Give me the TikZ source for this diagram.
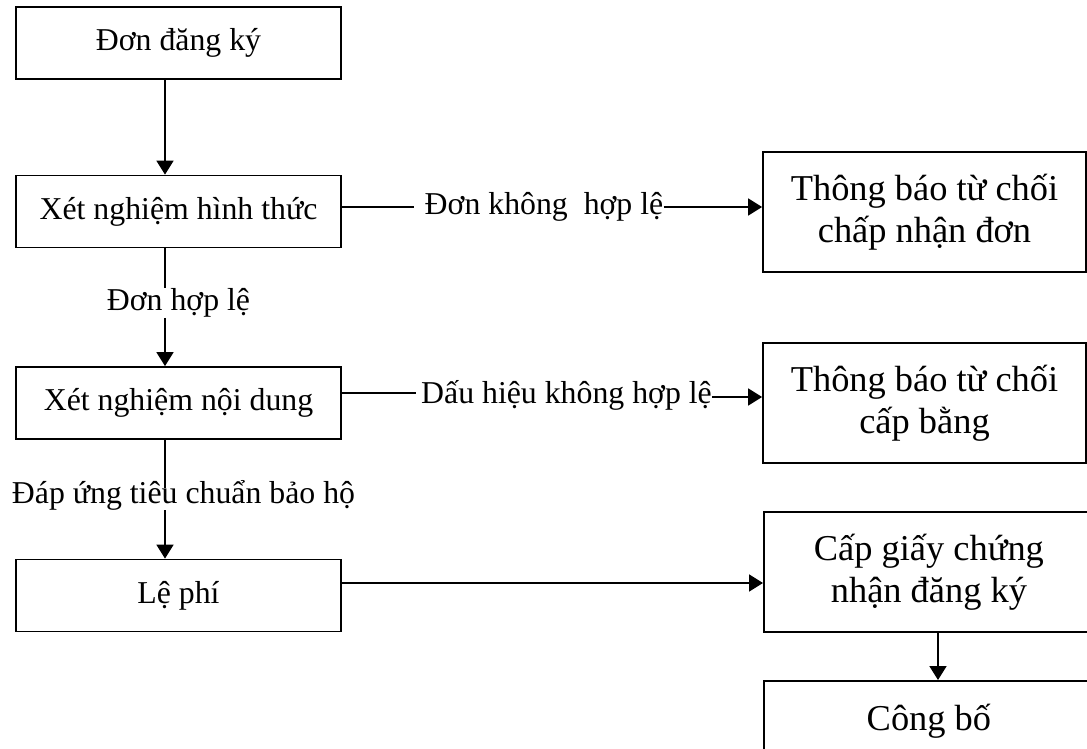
\documentclass[tikz,border=0pt]{standalone}
\usepackage{fontspec}
\setmainfont{Liberation Serif}
\usetikzlibrary{arrows.meta,calc}
\begin{document}
\begin{tikzpicture}[x=0.5pt,y=-0.5pt,
  lbox/.style={draw,line width=0.9pt,minimum width=162.5pt,minimum height=36pt,inner sep=0pt,font=\fontsize{15.9}{19}\selectfont},
  rbox/.style={draw,line width=0.9pt,minimum width=161.5pt,minimum height=60pt,inner sep=0pt,align=center,font=\fontsize{18.2}{21}\selectfont},
  lbl/.style={inner sep=0pt,font=\fontsize{15.9}{19}\selectfont},
  conn/.style={line width=0.9pt},
  arr/.style={line width=0.9pt,-{Triangle[width=8.5pt,length=7pt]}}]
\useasboundingbox (0,0) rectangle (1087,749);
\node[lbox] (b1) at (178.5,43) {Đơn đăng ký};
\node[lbox] (b2) at (178.5,211.5) {Xét nghiệm hình thức};
\node[lbox] (b3) at (178.5,403) {Xét nghiệm nội dung};
\node[lbox] (b4) at (178.5,595.5) {Lệ phí};
\node[rbox] (r1) at (924.5,212) {Thông báo từ chối\\chấp nhận đơn};
\node[rbox] (r2) at (924.5,403) {Thông báo từ chối\\cấp bằng};
\node[rbox,anchor=west,minimum width=165pt] (r3) at (763,572) {Cấp giấy chứng\\nhận đăng ký};
\node[rbox,anchor=north west,minimum width=165pt,minimum height=40pt] (r4) at (763,680) {\raisebox{2.5pt}{Công bố}};
\node[lbl] (l1) at (178.5,303) {Đơn hợp lệ};
\node[lbl] (l2) at (183.5,495) {Đáp ứng tiêu chuẩn bảo hộ};
\node[lbl] (l3) at (544,207) {Đơn không\ \ hợp lệ};
\node[lbl] (l4) at (566.5,395) {Dấu hiệu không hợp lệ};
\coordinate (ax) at (165,0);
\coordinate (ax2) at (938,0);
\coordinate (fee) at (550,583);
\draw[arr] (b1.south -| ax) -- (b2.north -| ax);
\draw[conn] (b2.south -| ax) -- (l1.north -| ax);
\draw[arr] (l1.south -| ax) -- (b3.north -| ax);
\draw[conn] (b3.south -| ax) -- ($(l2.base -| ax)+(0,-15)$);
\draw[arr] (l2.south -| ax) -- (b4.north -| ax);
\draw[conn] (b2.east |- l3) -- ($(l3.west)+(-10,0)$);
\draw[arr] (l3.east) -- (r1.west |- l3);
\draw[conn] ($(b3.east |- l4)+(0,-2)$) -- ($(l4.west)+(-5,-2)$);
\draw[arr] ($(l4.east)+(0,2)$) -- ($(r2.west |- l4)+(0,2)$);
\draw[arr] (b4.east |- fee) -- (r3.west |- fee);
\draw[arr] (r3.south -| ax2) -- (r4.north -| ax2);
\end{tikzpicture}
\end{document}
